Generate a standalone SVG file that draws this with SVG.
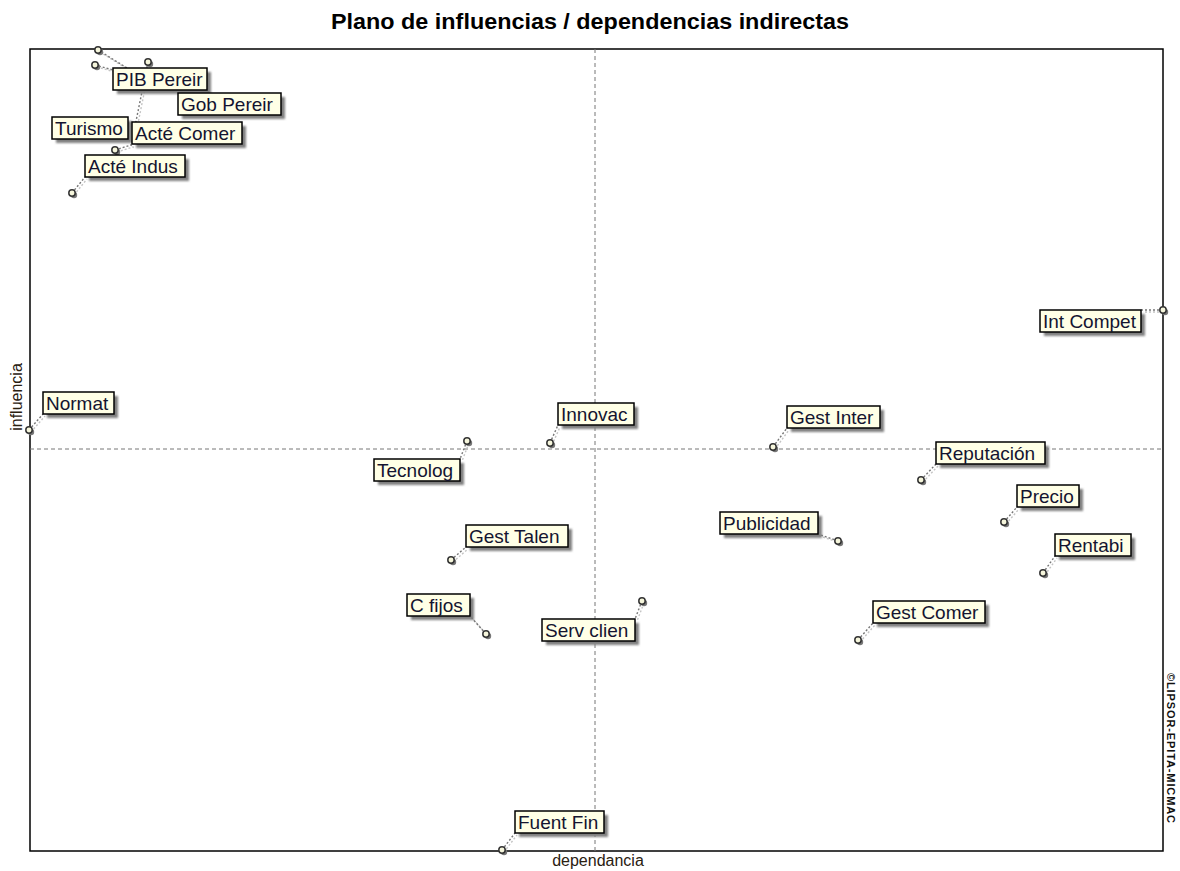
<svg xmlns="http://www.w3.org/2000/svg" width="1180" height="871" viewBox="0 0 1180 871">
<defs>
<filter id="sh" x="-20%" y="-40%" width="140%" height="180%"><feGaussianBlur stdDeviation="1"/></filter>
<style>
.title{font-family:"Liberation Sans",Arial,sans-serif;font-weight:bold;font-size:22px;fill:#000}
.ax{font-family:"Liberation Sans",Arial,sans-serif;font-size:16px;fill:#2a2010}
.wm{font-family:"Liberation Sans",Arial,sans-serif;font-weight:bold;font-size:11px;fill:#111}
.frame{fill:none;stroke:#000;stroke-width:1.5}
.axis{stroke:#777;stroke-width:1;stroke-dasharray:4 3;fill:none}
.box{fill:#ffffe6;stroke:#000;stroke-width:1.5}
.bsh{fill:#808080;filter:url(#sh)}
.lbl{font-family:"Liberation Sans",Arial,sans-serif;font-size:19px;fill:#141430}
.ln{stroke:#777;stroke-width:1.4;stroke-dasharray:2 2;fill:none}
.lnsh{stroke:#c4c4c4;stroke-width:1.4;stroke-dasharray:2 2;fill:none}
.pt{fill:#f6f6dc;stroke:#333;stroke-width:1.5}
.ptsh{fill:#777}
</style>
</defs>
<rect width="1180" height="871" fill="#fff"/>
<text class="title" x="590" y="29" text-anchor="middle" textLength="518" lengthAdjust="spacingAndGlyphs">Plano de influencias / dependencias indirectas</text>
<rect class="frame" x="30" y="49" width="1133" height="802"/>
<line class="axis" x1="595" y1="49" x2="595" y2="851"/>
<line class="axis" x1="30" y1="449" x2="1163" y2="449"/>
<text class="ax" x="598" y="866" text-anchor="middle">dependancia</text>
<text class="ax" transform="translate(22,397) rotate(-90)" text-anchor="middle">influencia</text>
<text class="wm" transform="translate(1167,673) rotate(90)" textLength="150">©LIPSOR-EPITA-MICMAC</text>

<g id="connectors">
<path class="lnsh" d="M100,52 L129,70 M97,67 L115,72 M150,64 L133,148 M117,152 L133,147 M74,195 L87,179 M31,432 L45,416 M552,445 L560,427 M469,443 L462,461 M775,449 L789,430 M1163,312 L1143,312 M923,482 L938,466 M1006,524 L1019,509 M840,543 L820,536 M1045,575 L1057,558 M453,562 L468,549 M488,636 L472,618 M644,603 L637,621 M860,642 L875,625 M504,852 L517,835"/>
<path class="ln" d="M98,50 L127,68 M95,65 L113,70 M148,62 L131,146 M115,150 L131,145 M72,193 L85,177 M29,430 L43,414 M550,443 L558,425 M467,441 L460,459 M773,447 L787,428 M1163,310 L1141,310 M921,480 L936,464 M1004,522 L1017,507 M838,541 L818,534 M1043,573 L1055,556 M451,560 L466,547 M486,634 L470,616 M642,601 L635,619 M858,640 L873,623 M502,850 L515,833"/>
</g>

<g id="points">
<circle class="ptsh" cx="100" cy="52" r="3.2"/><circle class="pt" cx="98" cy="50" r="3.2"/>
<circle class="ptsh" cx="97" cy="67" r="3.2"/><circle class="pt" cx="95" cy="65" r="3.2"/>
<circle class="ptsh" cx="150" cy="64" r="3.2"/><circle class="pt" cx="148" cy="62" r="3.2"/>
<circle class="ptsh" cx="117" cy="152" r="3.2"/><circle class="pt" cx="115" cy="150" r="3.2"/>
<circle class="ptsh" cx="74" cy="195" r="3.2"/><circle class="pt" cx="72" cy="193" r="3.2"/>
<circle class="ptsh" cx="31" cy="432" r="3.2"/><circle class="pt" cx="29" cy="430" r="3.2"/>
<circle class="ptsh" cx="552" cy="445" r="3.2"/><circle class="pt" cx="550" cy="443" r="3.2"/>
<circle class="ptsh" cx="469" cy="443" r="3.2"/><circle class="pt" cx="467" cy="441" r="3.2"/>
<circle class="ptsh" cx="775" cy="449" r="3.2"/><circle class="pt" cx="773" cy="447" r="3.2"/>
<circle class="ptsh" cx="1165" cy="312" r="3.2"/><circle class="pt" cx="1163" cy="310" r="3.2"/>
<circle class="ptsh" cx="923" cy="482" r="3.2"/><circle class="pt" cx="921" cy="480" r="3.2"/>
<circle class="ptsh" cx="1006" cy="524" r="3.2"/><circle class="pt" cx="1004" cy="522" r="3.2"/>
<circle class="ptsh" cx="840" cy="543" r="3.2"/><circle class="pt" cx="838" cy="541" r="3.2"/>
<circle class="ptsh" cx="1045" cy="575" r="3.2"/><circle class="pt" cx="1043" cy="573" r="3.2"/>
<circle class="ptsh" cx="453" cy="562" r="3.2"/><circle class="pt" cx="451" cy="560" r="3.2"/>
<circle class="ptsh" cx="488" cy="636" r="3.2"/><circle class="pt" cx="486" cy="634" r="3.2"/>
<circle class="ptsh" cx="644" cy="603" r="3.2"/><circle class="pt" cx="642" cy="601" r="3.2"/>
<circle class="ptsh" cx="860" cy="642" r="3.2"/><circle class="pt" cx="858" cy="640" r="3.2"/>
<circle class="ptsh" cx="504" cy="852" r="3.2"/><circle class="pt" cx="502" cy="850" r="3.2"/>
</g>

<g id="n-pib"><rect class="bsh" x="117" y="72" width="94" height="22"/><rect class="box" x="113" y="68" width="94" height="22"/><text class="lbl" x="116" y="86">PIB Pereir</text></g>
<g id="n-gob"><rect class="bsh" x="182" y="97" width="103" height="22"/><rect class="box" x="178" y="93" width="103" height="22"/><text class="lbl" x="181" y="111">Gob Pereir</text></g>
<g id="n-turismo"><rect class="bsh" x="56" y="121" width="76" height="22"/><rect class="box" x="52" y="117" width="76" height="22"/><text class="lbl" x="55" y="135">Turismo</text></g>
<g id="n-actecomer"><rect class="bsh" x="136" y="126" width="110" height="22"/><rect class="box" x="132" y="122" width="110" height="22"/><text class="lbl" x="135" y="140">Acté Comer</text></g>
<g id="n-acteindus"><rect class="bsh" x="89" y="159" width="100" height="22"/><rect class="box" x="85" y="155" width="100" height="22"/><text class="lbl" x="88" y="173">Acté Indus</text></g>
<g id="n-normat"><rect class="bsh" x="47" y="396" width="71" height="22"/><rect class="box" x="43" y="392" width="71" height="22"/><text class="lbl" x="46" y="410">Normat</text></g>
<g id="n-innovac"><rect class="bsh" x="562" y="407" width="76" height="22"/><rect class="box" x="558" y="403" width="76" height="22"/><text class="lbl" x="561" y="421">Innovac</text></g>
<g id="n-tecnolog"><rect class="bsh" x="378" y="463" width="86" height="22"/><rect class="box" x="374" y="459" width="86" height="22"/><text class="lbl" x="377" y="477">Tecnolog</text></g>
<g id="n-gestinter"><rect class="bsh" x="791" y="410" width="93" height="22"/><rect class="box" x="787" y="406" width="93" height="22"/><text class="lbl" x="790" y="424">Gest Inter</text></g>
<g id="n-intcompet"><rect class="bsh" x="1044" y="314" width="101" height="22"/><rect class="box" x="1040" y="310" width="101" height="22"/><text class="lbl" x="1043" y="328">Int Compet</text></g>
<g id="n-reputacion"><rect class="bsh" x="940" y="446" width="109" height="22"/><rect class="box" x="936" y="442" width="109" height="22"/><text class="lbl" x="939" y="460">Reputación</text></g>
<g id="n-precio"><rect class="bsh" x="1021" y="489" width="62" height="22"/><rect class="box" x="1017" y="485" width="62" height="22"/><text class="lbl" x="1020" y="503">Precio</text></g>
<g id="n-publicidad"><rect class="bsh" x="724" y="516" width="98" height="22"/><rect class="box" x="720" y="512" width="98" height="22"/><text class="lbl" x="723" y="530">Publicidad</text></g>
<g id="n-rentabi"><rect class="bsh" x="1059" y="538" width="76" height="22"/><rect class="box" x="1055" y="534" width="76" height="22"/><text class="lbl" x="1058" y="552">Rentabi</text></g>
<g id="n-gesttalen"><rect class="bsh" x="470" y="529" width="102" height="22"/><rect class="box" x="466" y="525" width="102" height="22"/><text class="lbl" x="469" y="543">Gest Talen</text></g>
<g id="n-cfijos"><rect class="bsh" x="411" y="598" width="63" height="22"/><rect class="box" x="407" y="594" width="63" height="22"/><text class="lbl" x="410" y="612">C fijos</text></g>
<g id="n-servclien"><rect class="bsh" x="546" y="623" width="93" height="22"/><rect class="box" x="542" y="619" width="93" height="22"/><text class="lbl" x="545" y="637">Serv clien</text></g>
<g id="n-gestcomer"><rect class="bsh" x="877" y="605" width="112" height="22"/><rect class="box" x="873" y="601" width="112" height="22"/><text class="lbl" x="876" y="619">Gest Comer</text></g>
<g id="n-fuentfin"><rect class="bsh" x="519" y="815" width="89" height="22"/><rect class="box" x="515" y="811" width="89" height="22"/><text class="lbl" x="518" y="829">Fuent Fin</text></g>
</svg>
